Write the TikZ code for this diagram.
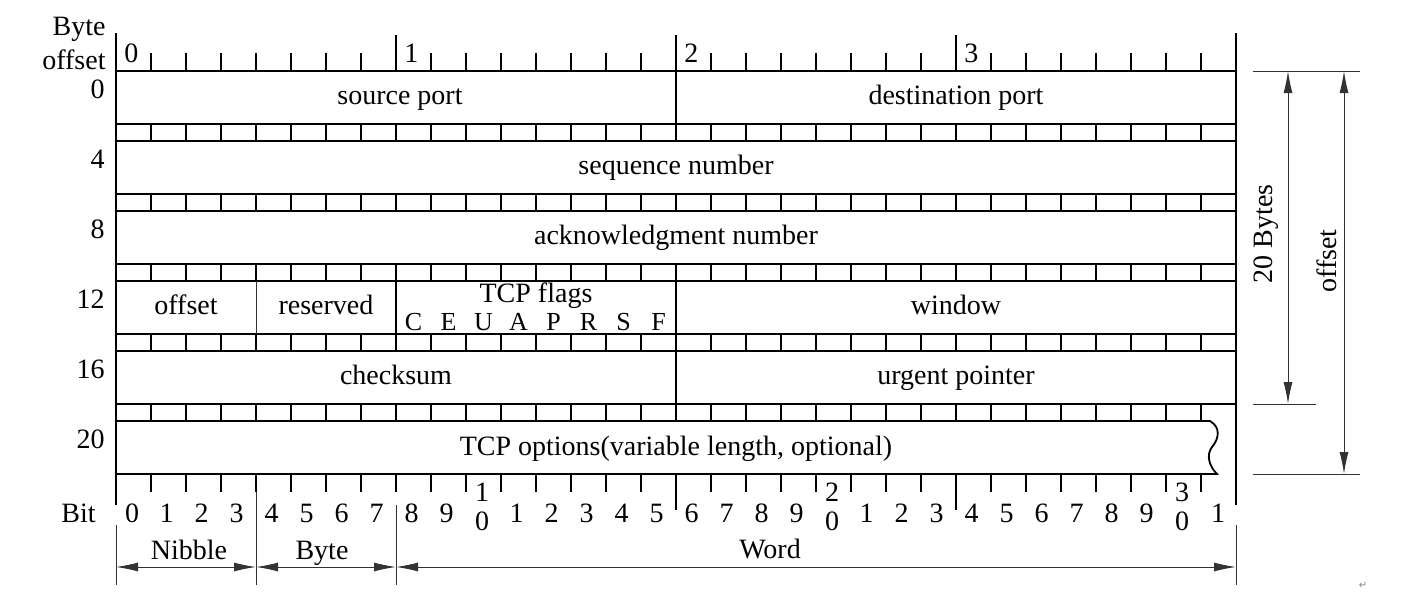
\documentclass[tikz,border=0pt]{standalone}
\usepackage{fontspec}
\setmainfont{Liberation Serif}
\newfontfamily\symfont{DejaVu Sans}
\usetikzlibrary{arrows.meta}
\tikzset{
	lbl/.style={inner sep=0pt, anchor=base, font=\fontsize{14}{16}\selectfont},
	rule/.style={line width=0.9pt},
	thin/.style={line width=0.5pt, draw=black!80},
	dim/.style={thin, {Latex[length=11pt,width=4.5pt]}-{Latex[length=11pt,width=4.5pt]}},
}

\begin{document}
\begin{tikzpicture}[x=0.5pt,y=-0.5pt]
	\useasboundingbox (0,0) rectangle (1420,616);

	% borders and rows
	\draw[rule] (116,33)--(116,505);
	\draw[rule] (1236,33)--(1236,505);
	\draw[thin] (116,525)--(116,585);
	\draw[thin] (1236,525)--(1236,585);
	\foreach \y in {71,124,141,194,211,264,281,334,351,404}
		\draw[rule] (116,\y)--(1236,\y);
	\draw[rule] (116,421)--(1210,421)
		.. controls (1222,428) and (1218,440) .. (1212,447)
		.. controls (1206,455) and (1209,466) .. (1217,474)--(116,474);
	\foreach \y in {124,194,264,334,404}
		\foreach \i in {1,...,31}
			\draw[rule] ({116+35*\i},\y)--({116+35*\i},\y+17);

	\draw[rule] (676,71)--(676,124);
	\draw[thin] (256,281)--(256,334);
	\draw[rule] (396,281)--(396,334);
	\draw[rule] (676,281)--(676,334);
	\draw[rule] (676,351)--(676,404);

	% bit rulers
	\foreach \i in {1,...,31} {
		\draw[rule] ({116+35*\i},53)--({116+35*\i},71);
		\draw[rule] ({116+35*\i},474)--({116+35*\i},492);
	}
	\foreach \i in {8,16,24}
		\draw[rule] ({116+35*\i},35)--({116+35*\i},53);
	\draw[rule] (676,492)--(676,510);
	\draw[rule] (956,492)--(956,510);
	\draw[thin] (256,492)--(256,585);
	\draw[thin] (396,505)--(396,585);

	\node[lbl, anchor=base east] (bytehd) at (106,35) {Byte};
	\node[lbl, anchor=base east] (offhd) at (106,69) {offset};
	\foreach \b in {0,...,3}
		\node[lbl, anchor=base west] (byte\b) at ({124+280*\b},62) {\b};
	\foreach \r [count=\k from 0] in {0,4,8,12,16,20}
		\node[lbl, anchor=base east] (row\r) at (105,{98+70*\k}) {\r};

	\node[lbl, anchor=base east] (bithd) at (96,522) {Bit};
	\node[lbl] (bit00) at (132,522) {0};
	\foreach \t in {0,1,2}
		\foreach \u in {1,...,9}
			\node[lbl] (bit\t\u) at ({116+35*(10*\t+\u)+15.5},522) {\u};
	\node[lbl] (bit31) at (1218,522) {1};
	\foreach \t in {1,2,3} {
		\node[lbl] (tens\t) at ({116+350*\t+16},501) {\t};
		\node[lbl] (ones\t) at ({116+350*\t+16},530) {0};
	}

	% fields
	\node[lbl] (srcport) at (400,104) {source port};
	\node[lbl] (dstport) at (956,104) {destination port};
	\node[lbl] (seqnum) at (676,174) {sequence number};
	\node[lbl] (acknum) at (676,244) {acknowledgment number};
	\node[lbl] (dataoff) at (186,314) {offset};
	\node[lbl] (resv) at (326,314) {reserved};
	\node[lbl] (flags) at (536,302) {TCP flags};
	\foreach \f [count=\k from 8] in {C,E,U,A,P,R,S,F}
		\node[lbl, font=\fontsize{13}{15}\selectfont] (flag\f) at ({116+35*\k+17.5},330) {\f};
	\node[lbl] (window) at (956,314) {window};
	\node[lbl] (chksum) at (396,384) {checksum};
	\node[lbl] (urgptr) at (956,384) {urgent pointer};
	\node[lbl] (options) at (676,455) {TCP options(variable length, optional)};

	% nibble, byte, word
	\coordinate (nibL) at (116,567);
	\coordinate (nibR) at (256,567);
	\coordinate (byteR) at (396,567);
	\coordinate (wordR) at (1236,567);
	\draw[dim] (nibL)--(nibR);
	\draw[dim] (nibR)--(byteR);
	\draw[dim] (byteR)--(wordR);
	\node[lbl] (nibble) at (189,559) {Nibble};
	\node[lbl] (bytelen) at (322,559) {Byte};
	\node[lbl] (word) at (770,558) {Word};

	% header length
	\coordinate (extA) at (1253,71);
	\coordinate (extB) at (1253,404);
	\coordinate (extC) at (1253,474);
	\draw[thin] (extA)--(1360,71);
	\draw[thin] (extB)--(1316,404);
	\draw[thin] (extC)--(1360,474);
	\coordinate (hdrT) at (1288,71);
	\coordinate (hdrB) at (1288,404);
	\coordinate (offT) at (1344,71);
	\coordinate (offB) at (1344,474);
	\draw[dim] (hdrT)--(hdrB);
	\draw[dim] (offT)--(offB);
	\node[lbl, rotate=90] (twentyB) at (1272,234) {20 Bytes};
	\node[lbl, rotate=90] (offlen) at (1336,261) {offset};

	\node[inner sep=0pt, text=black!50, font=\symfont\fontsize{5}{6}\selectfont] (retmark) at (1363,585) {↵};
\end{tikzpicture}
\end{document}
